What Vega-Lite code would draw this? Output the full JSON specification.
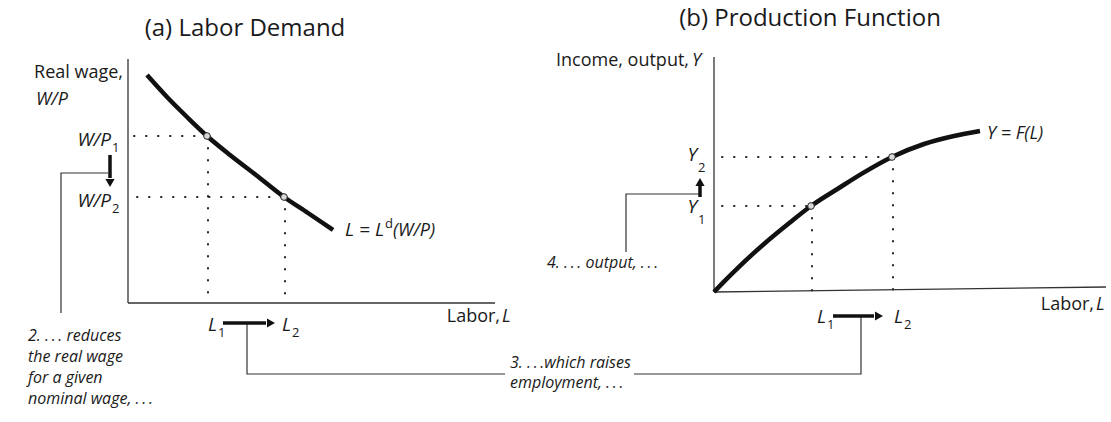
{
  "$schema": "https://vega.github.io/schema/vega-lite/v6.json",
  "width": 1111,
  "height": 422,
  "autosize": {"type": "fit", "contains": "padding"},
  "padding": 0,
  "background": "white",
  "config": {"view": {"stroke": null}},
  "datasets": {
    "axes": [
      {"id": "ay", "o": 0, "x": 128, "y": 363}, {"id": "ay", "o": 1, "x": 128, "y": 119},
      {"id": "ax", "o": 0, "x": 128, "y": 119}, {"id": "ax", "o": 1, "x": 495, "y": 119},
      {"id": "by", "o": 0, "x": 714, "y": 365}, {"id": "by", "o": 1, "x": 714, "y": 130},
      {"id": "bx", "o": 0, "x": 714, "y": 130}, {"id": "bx", "o": 1, "x": 1106, "y": 135}
    ],
    "connectors": [
      {"id": "c2", "o": 0, "x": 108, "y": 249}, {"id": "c2", "o": 1, "x": 61, "y": 249}, {"id": "c2", "o": 2, "x": 61, "y": 109},
      {"id": "c3", "o": 0, "x": 247, "y": 99}, {"id": "c3", "o": 1, "x": 247, "y": 48}, {"id": "c3", "o": 2, "x": 505, "y": 48},
      {"id": "c3b", "o": 0, "x": 634, "y": 48}, {"id": "c3b", "o": 1, "x": 861, "y": 48}, {"id": "c3b", "o": 2, "x": 861, "y": 106},
      {"id": "c4", "o": 0, "x": 626, "y": 170}, {"id": "c4", "o": 1, "x": 626, "y": 228}, {"id": "c4", "o": 2, "x": 700, "y": 228}
    ],
    "dotted": [
      {"id": "h1", "o": 0, "x": 134, "y": 286}, {"id": "h1", "o": 1, "x": 207, "y": 286},
      {"id": "h2", "o": 0, "x": 137, "y": 225}, {"id": "h2", "o": 1, "x": 284, "y": 225},
      {"id": "v1", "o": 0, "x": 208, "y": 286}, {"id": "v1", "o": 1, "x": 208, "y": 119},
      {"id": "v2", "o": 0, "x": 285, "y": 225}, {"id": "v2", "o": 1, "x": 285, "y": 119},
      {"id": "h3", "o": 0, "x": 722, "y": 265}, {"id": "h3", "o": 1, "x": 892, "y": 265},
      {"id": "h4", "o": 0, "x": 722, "y": 216}, {"id": "h4", "o": 1, "x": 811, "y": 216},
      {"id": "v3", "o": 0, "x": 812, "y": 216}, {"id": "v3", "o": 1, "x": 812, "y": 130},
      {"id": "v4", "o": 0, "x": 893, "y": 265}, {"id": "v4", "o": 1, "x": 893, "y": 131}
    ],
    "curves": [
      {"id": "demand", "x": 147, "y": 347}, {"id": "demand", "x": 167, "y": 325}, {"id": "demand", "x": 187, "y": 305},
      {"id": "demand", "x": 207, "y": 286}, {"id": "demand", "x": 230, "y": 267}, {"id": "demand", "x": 256, "y": 247},
      {"id": "demand", "x": 284, "y": 225}, {"id": "demand", "x": 308, "y": 209}, {"id": "demand", "x": 333, "y": 192},
      {"id": "prod", "x": 714, "y": 130}, {"id": "prod", "x": 724, "y": 140.4}, {"id": "prod", "x": 739, "y": 155.2},
      {"id": "prod", "x": 764, "y": 178}, {"id": "prod", "x": 789, "y": 198.7}, {"id": "prod", "x": 811, "y": 216},
      {"id": "prod", "x": 839, "y": 234}, {"id": "prod", "x": 864, "y": 249.6}, {"id": "prod", "x": 892, "y": 265},
      {"id": "prod", "x": 924, "y": 278}, {"id": "prod", "x": 954, "y": 286}, {"id": "prod", "x": 980, "y": 291}
    ],
    "shafts": [
      {"id": "ad", "o": 0, "x": 110, "y": 267}, {"id": "ad", "o": 1, "x": 110, "y": 244},
      {"id": "bu", "o": 0, "x": 700, "y": 225}, {"id": "bu", "o": 1, "x": 700, "y": 236},
      {"id": "ar", "o": 0, "x": 223, "y": 99}, {"id": "ar", "o": 1, "x": 266, "y": 99},
      {"id": "br", "o": 0, "x": 833, "y": 106}, {"id": "br", "o": 1, "x": 874, "y": 106}
    ],
    "headDown": [{"x": 110, "y": 239}],
    "headUp": [{"x": 700, "y": 240}],
    "headRight": [{"x": 271, "y": 99}, {"x": 879, "y": 106}],
    "points": [
      {"x": 207, "y": 286}, {"x": 284, "y": 225}, {"x": 811, "y": 216}, {"x": 892, "y": 265}
    ],
    "titles": [
      {"t": "(a) Labor Demand", "x": 245, "y": 386},
      {"t": "(b) Production Function", "x": 810, "y": 396}
    ],
    "labelsR": [
      {"t": "Real wage,", "x": 123, "y": 344},
      {"t": "Labor,", "x": 500, "y": 100},
      {"t": "Labor,", "x": 1094, "y": 112},
      {"t": "Income, output,", "x": 689, "y": 356}
    ],
    "italicsL": [
      {"t": "W/P", "x": 36, "y": 317},
      {"t": "L", "x": 502, "y": 100},
      {"t": "L", "x": 1096, "y": 112},
      {"t": "Y", "x": 692, "y": 356},
      {"t": "(W/P)", "x": 393, "y": 186},
      {"t": "Y = F(L)", "x": 987, "y": 283}
    ],
    "italicsR": [
      {"t": "W/P", "x": 111, "y": 276},
      {"t": "W/P", "x": 111, "y": 215},
      {"t": "L", "x": 217, "y": 91},
      {"t": "L", "x": 291, "y": 91},
      {"t": "L", "x": 826, "y": 99},
      {"t": "L", "x": 903, "y": 99},
      {"t": "Y", "x": 697, "y": 261},
      {"t": "Y", "x": 697, "y": 209},
      {"t": "L = L", "x": 384, "y": 186}
    ],
    "subs": [
      {"t": "1", "x": 112, "y": 270},
      {"t": "2", "x": 112, "y": 209},
      {"t": "1", "x": 218, "y": 85},
      {"t": "2", "x": 292, "y": 85},
      {"t": "1", "x": 827, "y": 93},
      {"t": "2", "x": 904, "y": 93},
      {"t": "2", "x": 698, "y": 250},
      {"t": "1", "x": 698, "y": 198},
      {"t": "d", "x": 385, "y": 194}
    ],
    "notes": [
      {"t": "2. .\u2009.\u2009. reduces", "x": 28, "y": 81},
      {"t": "the real wage", "x": 28, "y": 60},
      {"t": "for a given", "x": 28, "y": 39},
      {"t": "nominal wage, .\u2009.\u2009.", "x": 28, "y": 18},
      {"t": "3. .\u2009.\u2009.which raises", "x": 510, "y": 54},
      {"t": "employment, .\u2009.\u2009.", "x": 510, "y": 34},
      {"t": "4. .\u2009.\u2009. output, .\u2009.\u2009.", "x": 547, "y": 154}
    ]
  },
  "encoding": {
    "x": {"field": "x", "type": "quantitative", "scale": {"domain": [0, 1111], "nice": false, "zero": false}, "axis": null},
    "y": {"field": "y", "type": "quantitative", "scale": {"domain": [0, 422], "nice": false, "zero": false}, "axis": null}
  },
  "layer": [
    {"data": {"name": "axes"}, "mark": {"type": "line", "color": "#333", "strokeWidth": 1.3},
     "encoding": {"detail": {"field": "id"}, "order": {"field": "o"}}},
    {"data": {"name": "connectors"}, "mark": {"type": "line", "color": "#333", "strokeWidth": 1.2},
     "encoding": {"detail": {"field": "id"}, "order": {"field": "o"}}},
    {"data": {"name": "dotted"}, "mark": {"type": "line", "color": "#222", "strokeWidth": 2, "strokeDash": [0.5, 11.5], "strokeCap": "round"},
     "encoding": {"detail": {"field": "id"}, "order": {"field": "o"}}},
    {"data": {"name": "curves"}, "mark": {"type": "line", "color": "#111", "strokeWidth": 4.5, "interpolate": "monotone"},
     "encoding": {"detail": {"field": "id"}}},
    {"data": {"name": "shafts"}, "mark": {"type": "line", "color": "#111", "strokeWidth": 3.5},
     "encoding": {"detail": {"field": "id"}, "order": {"field": "o"}}},
    {"data": {"name": "headDown"}, "mark": {"type": "point", "shape": "triangle-down", "filled": true, "color": "#111", "size": 85, "opacity": 1}},
    {"data": {"name": "headUp"}, "mark": {"type": "point", "shape": "triangle-up", "filled": true, "color": "#111", "size": 85, "opacity": 1}},
    {"data": {"name": "headRight"}, "mark": {"type": "point", "shape": "triangle-right", "filled": true, "color": "#111", "size": 85, "opacity": 1}},
    {"data": {"name": "points"}, "mark": {"type": "point", "shape": "circle", "filled": true, "fill": "#d8d8d8", "stroke": "#222", "strokeWidth": 1, "size": 45, "opacity": 1}},
    {"data": {"name": "titles"}, "mark": {"type": "text", "align": "center", "baseline": "alphabetic", "font": "Open Sans", "fontSize": 24, "color": "#1a1a1a"},
     "encoding": {"text": {"field": "t"}}},
    {"data": {"name": "labelsR"}, "mark": {"type": "text", "align": "right", "baseline": "alphabetic", "font": "Open Sans", "fontSize": 18, "color": "#1a1a1a"},
     "encoding": {"text": {"field": "t"}}},
    {"data": {"name": "italicsL"}, "mark": {"type": "text", "align": "left", "baseline": "alphabetic", "font": "Open Sans", "fontStyle": "italic", "fontSize": 18, "color": "#1a1a1a"},
     "encoding": {"text": {"field": "t"}}},
    {"data": {"name": "italicsR"}, "mark": {"type": "text", "align": "right", "baseline": "alphabetic", "font": "Open Sans", "fontStyle": "italic", "fontSize": 19, "color": "#1a1a1a"},
     "encoding": {"text": {"field": "t"}}},
    {"data": {"name": "subs"}, "mark": {"type": "text", "align": "left", "baseline": "alphabetic", "font": "Open Sans", "fontSize": 13, "color": "#1a1a1a"},
     "encoding": {"text": {"field": "t"}}},
    {"data": {"name": "notes"}, "mark": {"type": "text", "align": "left", "baseline": "alphabetic", "font": "Open Sans", "fontStyle": "italic", "fontSize": 16, "color": "#1a1a1a"},
     "encoding": {"text": {"field": "t"}}}
  ]
}
